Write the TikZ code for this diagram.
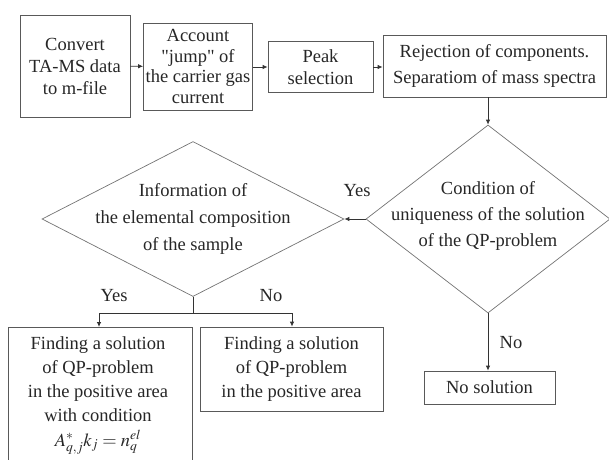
\documentclass[tikz,border=0pt]{standalone}
\usepackage{mathptmx}
\usepackage{fontspec}
\setmainfont{Liberation Serif}[Ligatures=TeXOff]
\usetikzlibrary{shapes.geometric,arrows.meta}
\begin{document}
\begin{tikzpicture}[x=1pt,y=-1pt,
  box/.style={draw=black!65,line width=0.8pt,rectangle,inner sep=0pt,align=center,text=black!85},
  dia/.style={draw=black!55,line width=0.7pt,diamond,inner sep=0pt},
  txt/.style={inner sep=0pt,align=center,text=black!85},
  conn/.style={draw=black!80,line width=0.8pt,-{Latex[length=5pt,width=4.5pt]}},
  line/.style={draw=black!80,line width=0.8pt},
  lbl/.style={inner sep=0pt,text=black!85,font=\fontsize{18.5}{22}\selectfont}]
\useasboundingbox (0,0) rectangle (609,459);
\node[box,minimum width=110pt,minimum height=102pt,font=\fontsize{18.5}{22}\selectfont] (b1) at (75,66) {Convert\\TA-MS data\\to m-file};
\node[box,minimum width=109pt,minimum height=87pt,font=\fontsize{18.5}{20.5}\selectfont] (b2) at (198,66.5) {Account\\"jump" of\\the carrier gas\\current};
\node[box,minimum width=105pt,minimum height=51pt,font=\fontsize{18.5}{22}\selectfont] (b3) at (320.5,67) {Peak\\selection};
\node[box,minimum width=223pt,minimum height=62pt,font=\fontsize{18.5}{26}\selectfont] (b4) at (494.5,66) {Rejection of components.\\Separatiom of mass spectra};
\node[dia,minimum width=244pt,minimum height=188pt] (d1) at (488,219) {};
\node[txt,font=\fontsize{18.5}{26}\selectfont] (d1t) at (488,216) {Condition of\\uniqueness of the solution\\of the QP-problem};
\node[dia,minimum width=302pt,minimum height=155pt] (d2) at (193,219) {};
\node[txt,font=\fontsize{18.5}{27}\selectfont] (d2t) at (193,219) {Information of\\the elemental composition\\of the sample};
\node[box,minimum width=184pt,minimum height=136pt,anchor=north] (b5) at (100,327) {};
\node[txt,font=\fontsize{18.5}{24}\selectfont,anchor=north] (b5t) at (98,336) {Finding a solution\\of QP-problem\\in the positive area\\with condition\\[1pt]$A^{*}_{q,j}k_j=n^{el}_q$};
\node[box,minimum width=183pt,minimum height=84pt,font=\fontsize{18.5}{24}\selectfont] (b6) at (291.5,369) {Finding a solution\\of QP-problem\\in the positive area};
\node[box,minimum width=131pt,minimum height=33pt,font=\fontsize{18.5}{22}\selectfont] (b7) at (489.5,387.5) {No solution};
\coordinate (split) at (193,313);
\coordinate (sl) at (99,313);
\coordinate (sr) at (292,313);
\draw[conn] (b1) -- (b2);
\draw[conn] (b2.east |- b3) -- (b3);
\draw[conn] (b3) -- (b4.west |- b3);
\draw[conn] (b4.south -| d1) -- (d1.north);
\draw[conn] (d1.west) -- (d2.east);
\draw[conn] (d1.south) -- (b7.north -| d1);
\draw[line] (d2.south) -- (split);
\draw[line] (sl) -- (sr);
\draw[conn] (sl) -- (b5.north -| sl);
\draw[conn] (sr) -- (b6.north -| sr);
\node[lbl] (yes1) at (357,191) {Yes};
\node[lbl] (yes2) at (114,296) {Yes};
\node[lbl] (no1) at (271,296) {No};
\node[lbl] (no2) at (511,343) {No};
\end{tikzpicture}
\end{document}
